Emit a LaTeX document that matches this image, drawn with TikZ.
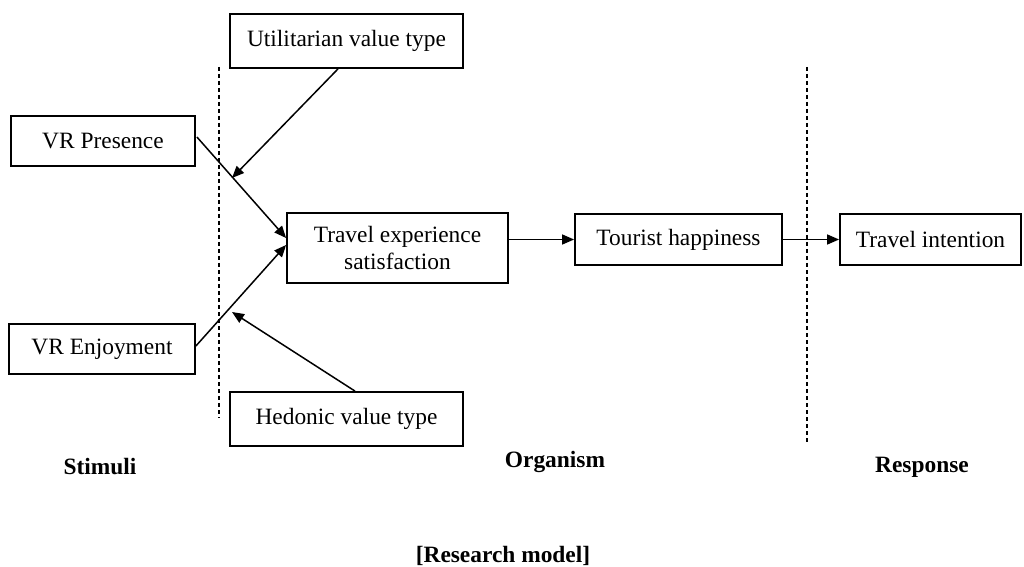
\documentclass[tikz,border=0pt]{standalone}
\usepackage{fontspec}
\setmainfont{Liberation Serif}
\usetikzlibrary{arrows.meta,calc}
\begin{document}
\begin{tikzpicture}[x=0.5pt,y=-0.5pt,
  box/.style={draw,line width=0.9pt,inner sep=0pt,align=center,
    font=\fontsize{11.7}{13.5}\selectfont},
  lab/.style={inner sep=0pt,font=\fontsize{11.7}{13.5}\selectfont\bfseries},
  conn/.style={line width=0.75pt,-{Triangle[length=6pt,width=5pt]}},
  sep/.style={line width=0.6pt,dash pattern=on 2pt off 1.5pt}]
\useasboundingbox (0,0) rectangle (1024,567);
\node[box,minimum width=116.5pt,minimum height=27pt] (util) at (346.5,41) {Utilitarian value type};
\node[box,minimum width=92pt,minimum height=25pt] (pres) at (103,141) {VR Presence};
\node[box,minimum width=93pt,minimum height=25pt] (enj) at (102,349) {VR Enjoyment};
\node[box,minimum width=116.5pt,minimum height=27pt] (hed) at (346.5,419) {Hedonic value type};
\node[box,minimum width=110.5pt,minimum height=35pt] (tes) at (397.5,248) {Travel experience\\satisfaction};
\node[box,minimum width=103.5pt,minimum height=25.5pt] (th) at (678.5,239.5) {Tourist happiness};
\node[box,minimum width=90.5pt,minimum height=25.5pt] (ti) at (930.5,239.5) {Travel intention};
\coordinate (ltop) at (219,67);
\coordinate (lbot) at (219,418);
\coordinate (rtop) at (807,67);
\coordinate (rbot) at (807,445);
\coordinate (utip) at (232,178);
\coordinate (htip) at (232,312);
\draw[sep] (ltop) -- (lbot);
\draw[sep] (rtop) -- (rbot);
\draw[conn] ($(util.south)+(-8.5,0)$) -- (utip);
\draw[conn] ($(hed.north)+(8.5,0)$) -- (htip);
\draw[conn] ($(pres.east)+(1,-4)$) -- ($(tes.west)+(0,-10)$);
\draw[conn] ($(enj.east)+(0,-3)$) -- ($(tes.west)+(0,-3)$);
\draw[conn] (tes.east |- th.west) -- (th.west);
\draw[conn] (th.east) -- (ti.west);
\node[lab] (stim) at (100,467) {Stimuli};
\node[lab] (org) at (555,462) {Organism};
\node[lab] (resp) at (922,467) {Response};
\node[lab] (cap) at (503,556) {[Research model]};
\end{tikzpicture}
\end{document}
